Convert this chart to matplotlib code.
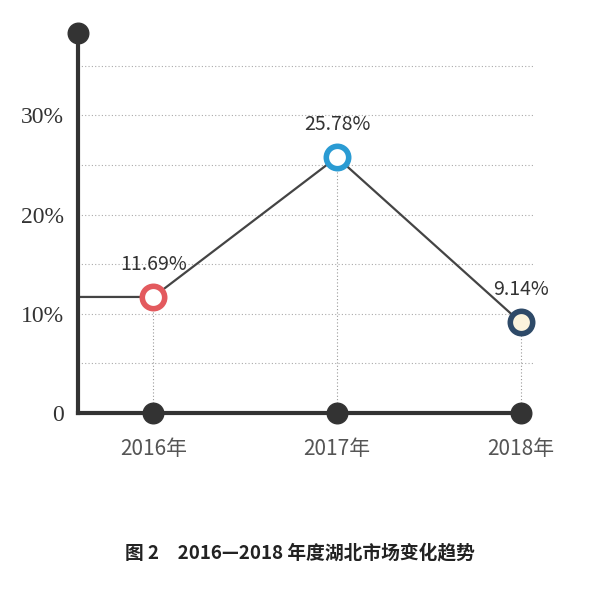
import matplotlib
matplotlib.use("Agg")
import matplotlib.pyplot as plt

years = ["2016年", "2017年", "2018年"]
values = [11.69, 25.78, 9.14]
labels = ["11.69%", "25.78%", "9.14%"]
yticks = [0, 10, 20, 30]
yticklabels = ["0", "10%", "20%", "30%"]
edge_colors = ["#e35a5e", "#2a9bd3", "#2e4a68"]
face_colors = ["white", "white", "#fbf3dc"]

plt.rcParams['font.family'] = ['Noto Sans CJK SC', 'DejaVu Sans']
fig = plt.figure(figsize=(6, 6.01), dpi=100)
ax = fig.add_axes([0.13, 0.313, 0.762, 0.632])
xs = list(range(len(years)))
ax.set_xlim(-0.41, 2.08)
ax.set_ylim(0, 38.3)

for y in range(5, 40, 5):
    ax.plot([-0.41, 2.08], [y, y], ls=(0, (1, 2)), color="#aaaaaa", lw=0.8, zorder=1)
for x, v in zip(xs, values):
    ax.plot([x, x], [0, v], ls=(0, (1, 2)), color="#999999", lw=0.8, zorder=1)

ax.plot([-0.41] + xs, [values[0]] + values, color="#444444", lw=1.6, zorder=2)
for x, v, ec, fc, t in zip(xs, values, edge_colors, face_colors, labels):
    ax.scatter([x], [v], s=260, facecolor=fc, edgecolor=ec, linewidth=4, zorder=3)
    ax.text(x, v + 2.2, t, ha="center", va="bottom", fontsize=14, color="#333333")

ax.plot([-0.41, 2.0], [0, 0], color="#333333", lw=3, zorder=2, clip_on=False)
ax.plot([-0.41, -0.41], [0, 38.3], color="#333333", lw=3, zorder=2, clip_on=False)
ax.scatter(xs, [0] * 3, s=220, color="#333333", zorder=4, clip_on=False)
ax.scatter([-0.41], [38.3], s=220, color="#333333", zorder=4, clip_on=False)

for s in ax.spines.values():
    s.set_visible(False)
ax.set_yticks(yticks)
ax.set_yticklabels(yticklabels, family=['Liberation Serif'], fontsize=17, color="#333333")
ax.set_xticks(xs)
ax.set_xticklabels(years, fontsize=15, color="#555555")
ax.tick_params(length=0, pad=18, axis='x')
ax.tick_params(length=0, pad=10, axis='y')

fig.text(0.5, 0.08, "图 2　2016—2018 年度湖北市场变化趋势", ha="center", va="center",
         fontsize=13.5, color="#222222", fontweight="bold")
fig.savefig("out.png")
